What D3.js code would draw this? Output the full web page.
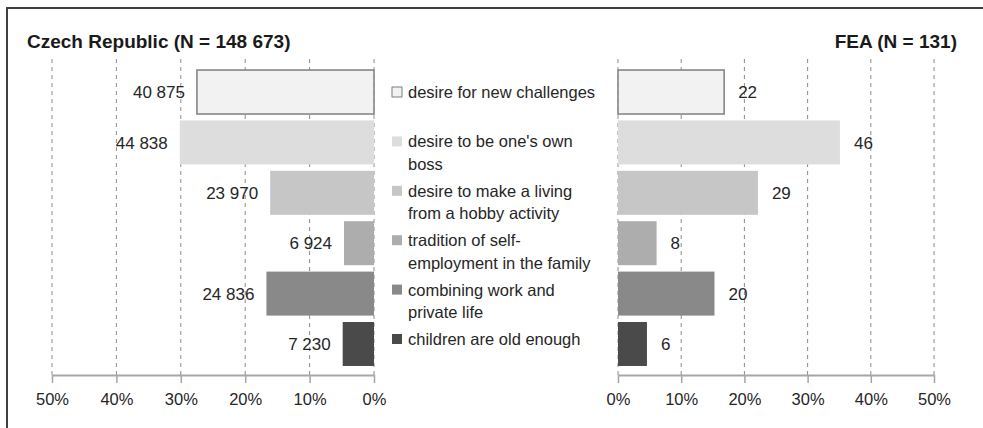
<!DOCTYPE html>
<html>
<head>
<meta charset="utf-8">
<script src="https://cdn.jsdelivr.net/npm/d3@7"></script>
<style>
  html, body { margin: 0; padding: 0; background: #fff; }
  svg { display: block; font-family: "Liberation Sans", Arial, sans-serif; }
</style>
</head>
<body>
<svg id="chart" width="983" height="428"></svg>
<script>
// Motives for starting a business: Czech Republic vs FEA respondents
const categoryLines = [
  ["desire for new challenges"],
  ["desire to be one's own", "boss"],
  ["desire to make a living", "from a hobby activity"],
  ["tradition of self-", "employment in the family"],
  ["combining work and", "private life"],
  ["children are old enough"]
];
const categories = categoryLines.map(l => l.reduce((a, b) => a.endsWith("-") ? a + b : a + " " + b));
const czCounts = [40875, 44838, 23970, 6924, 24836, 7230];
const czTotal = 148673;
const feaCounts = [22, 46, 29, 8, 20, 6];
const feaTotal = 131;
const tickValues = [0, 0.1, 0.2, 0.3, 0.4, 0.5];
const fills = ["#f2f2f2", "#dddddd", "#c6c6c6", "#adadad", "#898989", "#4a4a4a"];

const svg = d3.select("#chart");
const fmtCount = d => d3.format(",")(d).replace(/,/g, " ");
const fmtPct = d3.format(".0%");

// Frame (top and left edges)
svg.append("path")
  .attr("d", "M7,428 V8 H983")
  .attr("fill", "none")
  .attr("stroke", "#404040")
  .attr("stroke-width", 2);

const y = d3.scaleBand()
  .domain(categories)
  .range([67, 369])
  .paddingInner(0.127)
  .paddingOuter(0.06);

const gridTop = 59, axisY = 375;

function panel(xScale, counts, total, side) {
  const g = svg.append("g");

  // Dashed vertical gridlines
  g.append("g")
    .selectAll("line")
    .data(tickValues)
    .join("line")
    .attr("x1", d => xScale(d)).attr("x2", d => xScale(d))
    .attr("y1", gridTop).attr("y2", axisY)
    .attr("stroke", "#8c8c8c")
    .attr("stroke-width", 1)
    .attr("stroke-dasharray", "4,4");

  // Bars
  const pct = counts.map(c => c / total);
  g.append("g")
    .selectAll("rect")
    .data(categories)
    .join("rect")
    .attr("x", (d, i) => Math.min(xScale(0), xScale(pct[i])))
    .attr("width", (d, i) => Math.abs(xScale(pct[i]) - xScale(0)))
    .attr("y", d => y(d))
    .attr("height", y.bandwidth())
    .attr("fill", (d, i) => fills[i])
    .attr("stroke", (d, i) => i === 0 ? "#7f7f7f" : "none")
    .attr("stroke-width", 1.5);

  // Value labels
  g.append("g")
    .selectAll("text")
    .data(categories)
    .join("text")
    .attr("x", (d, i) => side === "left" ? xScale(pct[i]) - 12 : xScale(pct[i]) + 14)
    .attr("y", d => y(d) + y.bandwidth() / 2)
    .attr("dy", "0.36em")
    .attr("text-anchor", side === "left" ? "end" : "start")
    .attr("font-size", 17)
    .attr("fill", "#262626")
    .text((d, i) => side === "left" ? fmtCount(counts[i]) : counts[i]);

  // Axis
  const axis = d3.axisBottom(xScale)
    .tickValues(tickValues)
    .tickFormat(fmtPct)
    .tickSize(8)
    .tickSizeOuter(0)
    .tickPadding(10);
  const ax = g.append("g")
    .attr("transform", `translate(0,${axisY})`)
    .call(axis);
  ax.select(".domain").attr("stroke", "#a6a6a6").attr("stroke-width", 2);
  ax.selectAll(".tick line").attr("stroke", "#a6a6a6").attr("stroke-width", 1.5);
  ax.selectAll(".tick text")
    .attr("font-family", "Liberation Sans, Arial, sans-serif")
    .attr("font-size", 16.5)
    .attr("fill", "#262626");
}

const xLeft = d3.scaleLinear().domain([0, 0.5]).range([374, 52]);
const xRight = d3.scaleLinear().domain([0, 0.5]).range([618, 934]);
panel(xLeft, czCounts, czTotal, "left");
panel(xRight, feaCounts, feaTotal, "right");

// Panel titles
svg.append("text")
  .attr("x", 27).attr("y", 48)
  .attr("font-size", 19).attr("font-weight", "bold").attr("fill", "#1a1a1a")
  .text(`Czech Republic (N = ${fmtCount(czTotal)})`);
svg.append("text")
  .attr("x", 957).attr("y", 48)
  .attr("text-anchor", "end")
  .attr("font-size", 19).attr("font-weight", "bold").attr("fill", "#1a1a1a")
  .text(`FEA (N = ${feaTotal})`);

// Legend in the middle column
const legendTop = 92, legendStep = 49.4, lineH = 22.5;
const legend = svg.append("g");
const items = legend.selectAll("g")
  .data(categories)
  .join("g")
  .attr("transform", (d, i) => `translate(392,${legendTop + i * legendStep})`);
items.append("rect")
  .attr("x", 0).attr("y", -5)
  .attr("width", 10).attr("height", 10)
  .attr("fill", (d, i) => fills[i])
  .attr("stroke", (d, i) => i === 0 ? "#7f7f7f" : "none")
  .attr("stroke-width", 1);
items.append("text")
  .attr("font-size", 16.5)
  .attr("fill", "#262626")
  .selectAll("tspan")
  .data((d, i) => categoryLines[i])
  .join("tspan")
  .attr("x", 16)
  .attr("y", (d, j) => j * lineH)
  .attr("dy", "0.36em")
  .text(d => d);
</script>
</body>
</html>
